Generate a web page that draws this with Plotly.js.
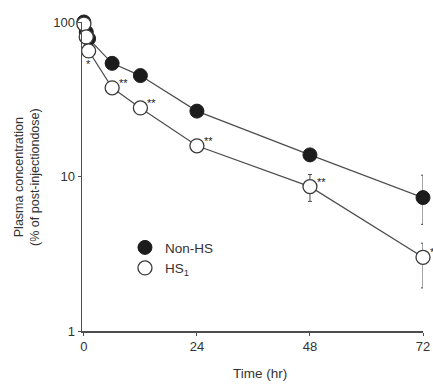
<!DOCTYPE html>
<html>
<head>
<meta charset="utf-8">
<script src="https://cdn.plot.ly/plotly-3.0.1.min.js"></script>
<style>html,body{margin:0;padding:0;background:#fff;}#chart{width:433px;height:385px;}</style>
</head>
<body>
<div id="chart"></div>
<script>
// ---- data ----
const timeHr = [0, 0.5, 1, 6, 12, 24, 48, 72];
const nonHS = [100, 86, 78, 54, 45, 26.5, 13.8, 7.3];
const nonHSErrPlus = [0, 0, 0, 0, 0, 0, 0, 2.9];
const nonHSErrMinus = [0, 0, 0, 0, 0, 0, 0, 2.4];
const hs1 = [97, 80, 65, 37.5, 27.8, 15.8, 8.6, 3.0];
const hs1ErrPlus = [0, 0, 0, 0, 0, 0, 1.7, 0.7];
const hs1ErrMinus = [0, 0, 0, 0, 0, 0, 1.7, 1.1];
const hs1Sig = ["", "", "*", "**", "**", "**", "**", "*"];
const xTicks = [0, 24, 48, 72];
const yTicks = [1, 10, 100];
const seriesNames = ["Non-HS", "HS<sub>1</sub>"];

const lineCol = "#4d4d4d";
const fontFam = "Liberation Sans, Arial, sans-serif";
const txtCol = "#333";

const traces = [
  {x: timeHr, y: nonHS, mode: "lines", line: {color: lineCol, width: 1.2}, showlegend: false, hoverinfo: "skip", cliponaxis: false},
  {x: timeHr, y: hs1, mode: "lines", line: {color: lineCol, width: 1.2}, showlegend: false, hoverinfo: "skip", cliponaxis: false},
  {x: timeHr, y: nonHS, mode: "markers", name: seriesNames[0], cliponaxis: false,
   marker: {symbol: "circle", size: 14, color: "#1c1c1c", line: {color: "#1c1c1c", width: 1}},
   error_y: {type: "data", symmetric: false, array: nonHSErrPlus, arrayminus: nonHSErrMinus, color: lineCol, thickness: 1, width: 2}},
  {x: timeHr, y: hs1, mode: "markers", name: seriesNames[1], cliponaxis: false,
   marker: {symbol: "circle", size: 14, color: "#ffffff", line: {color: "#3a3a3a", width: 1.3}},
   error_y: {type: "data", symmetric: false, array: hs1ErrPlus, arrayminus: hs1ErrMinus, color: lineCol, thickness: 1, width: 2}}
];

const annotations = [];
hs1Sig.forEach((s, i) => {
  if (!s) return;
  const below = i === 2;
  annotations.push({
    x: timeHr[i], y: Math.log10(hs1[i]), xref: "x", yref: "y",
    text: s, showarrow: false, font: {family: fontFam, size: 11, color: "#222"},
    xanchor: below ? "center" : "left", yanchor: "middle",
    xshift: below ? 0 : 5, yshift: below ? -13 : 5
  });
});
annotations.push({
  xref: "paper", yref: "paper", x: -0.163, y: 0.5, xanchor: "center", yanchor: "middle",
  text: "Plasma concentration<br>(% of post-injectiondose)", textangle: -90, showarrow: false,
  font: {family: fontFam, size: 12.5, color: txtCol}
});
annotations.push({
  xref: "paper", yref: "paper", x: 0.522, y: -0.136, xanchor: "center", yanchor: "middle",
  text: "Time (hr)", showarrow: false, font: {family: fontFam, size: 13.5, color: txtCol}
});

const layout = {
  width: 433, height: 385,
  margin: {l: 82, r: 10, t: 22, b: 54},
  paper_bgcolor: "#fff", plot_bgcolor: "#fff",
  showlegend: true,
  legend: {x: 0.126, y: 0.32, xanchor: "left", yanchor: "top", bgcolor: "rgba(0,0,0,0)",
           font: {family: fontFam, size: 13.5, color: txtCol}, tracegroupgap: 0, itemwidth: 30},
  xaxis: {range: [-0.4, 72], tickvals: xTicks, ticktext: xTicks.map(String),
          showgrid: false, zeroline: false, showline: true, linecolor: lineCol, linewidth: 1.5,
          ticks: "outside", ticklen: 3, tickcolor: lineCol, tickwidth: 1,
          tickfont: {family: fontFam, size: 13, color: txtCol}, fixedrange: true},
  yaxis: {type: "log", range: [0, 2], tickvals: yTicks, ticktext: yTicks.map(String),
          showgrid: false, zeroline: false, showline: true, linecolor: lineCol, linewidth: 1.5,
          ticks: "outside", ticklen: 3, tickcolor: lineCol, tickwidth: 1,
          tickfont: {family: fontFam, size: 13, color: txtCol}, fixedrange: true},
  annotations: annotations
};

Plotly.newPlot("chart", traces, layout, {staticPlot: true, displayModeBar: false});
</script>
</body>
</html>
